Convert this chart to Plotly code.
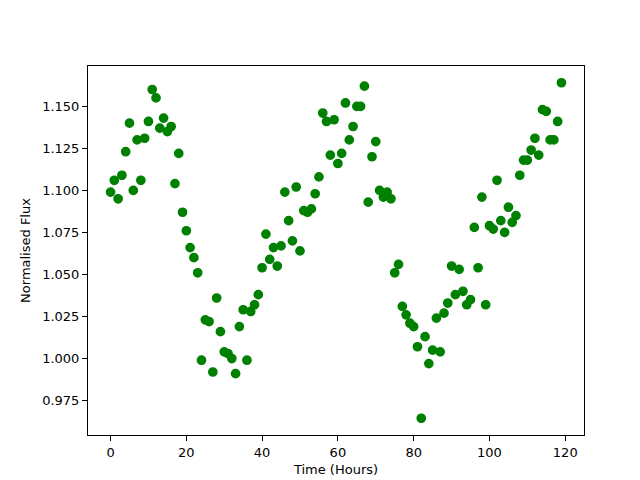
import plotly.graph_objects as go

hours = list(range(120))
flux = [
    1.099, 1.106, 1.095, 1.109, 1.123, 1.140, 1.100, 1.130, 1.106, 1.131,
    1.141, 1.160, 1.155, 1.137, 1.143, 1.135, 1.138, 1.104, 1.122, 1.087,
    1.076, 1.066, 1.060, 1.051, 0.999, 1.023, 1.022, 0.992, 1.036, 1.016,
    1.004, 1.003, 1.000, 0.991, 1.019, 1.029, 0.999, 1.028, 1.032, 1.038,
    1.054, 1.074, 1.059, 1.066, 1.055, 1.067, 1.099, 1.082, 1.070, 1.102,
    1.064, 1.088, 1.087, 1.089, 1.098, 1.108, 1.146, 1.141, 1.121, 1.142,
    1.116, 1.122, 1.152, 1.130, 1.138, 1.150, 1.150, 1.162, 1.093, 1.120,
    1.129, 1.100, 1.096, 1.099, 1.095, 1.051, 1.056, 1.031, 1.026, 1.021,
    1.019, 1.007, 0.9645, 1.013, 0.997, 1.005, 1.024, 1.004, 1.027, 1.033,
    1.055, 1.038, 1.053, 1.040, 1.032, 1.035, 1.078, 1.054, 1.096, 1.032,
    1.079, 1.077, 1.106, 1.082, 1.075, 1.090, 1.081, 1.085, 1.109, 1.118,
    1.118, 1.124, 1.131, 1.121, 1.148, 1.147, 1.130, 1.130, 1.141, 1.164,
]

fig = go.Figure(go.Scatter(
    x=hours, y=flux, mode="markers",
    marker=dict(color="green", size=8.3, line=dict(color="green", width=1.4)),
))

font = dict(family="DejaVu Sans", size=13, color="black")
axis_common = dict(
    showline=True, mirror=True, linecolor="black", linewidth=1,
    ticks="outside", ticklen=5, tickwidth=1, tickcolor="black",
    showgrid=False, zeroline=False, tickfont=font, automargin=False,
)
xmin, xmax = min(hours), max(hours)
ymin, ymax = min(flux), max(flux)
xp = (xmax - xmin) * 0.05
yp = (ymax - ymin) * 0.05
fig.update_xaxes(range=[xmin - xp, xmax + xp], dtick=20, tick0=0,
                 title=dict(text="Time (Hours)", font=font, standoff=6), **axis_common)
fig.update_yaxes(range=[ymin - yp, ymax + yp], dtick=0.025, tick0=0.975, tickformat=".3f",
                 title=dict(text="Normalised Flux", font=font, standoff=8), **axis_common)
fig.update_layout(
    width=640, height=480,
    margin=dict(l=80, r=64, t=58, b=53),
    plot_bgcolor="white", paper_bgcolor="white",
    showlegend=False, font=font,
)
fig.write_html("out.html")
